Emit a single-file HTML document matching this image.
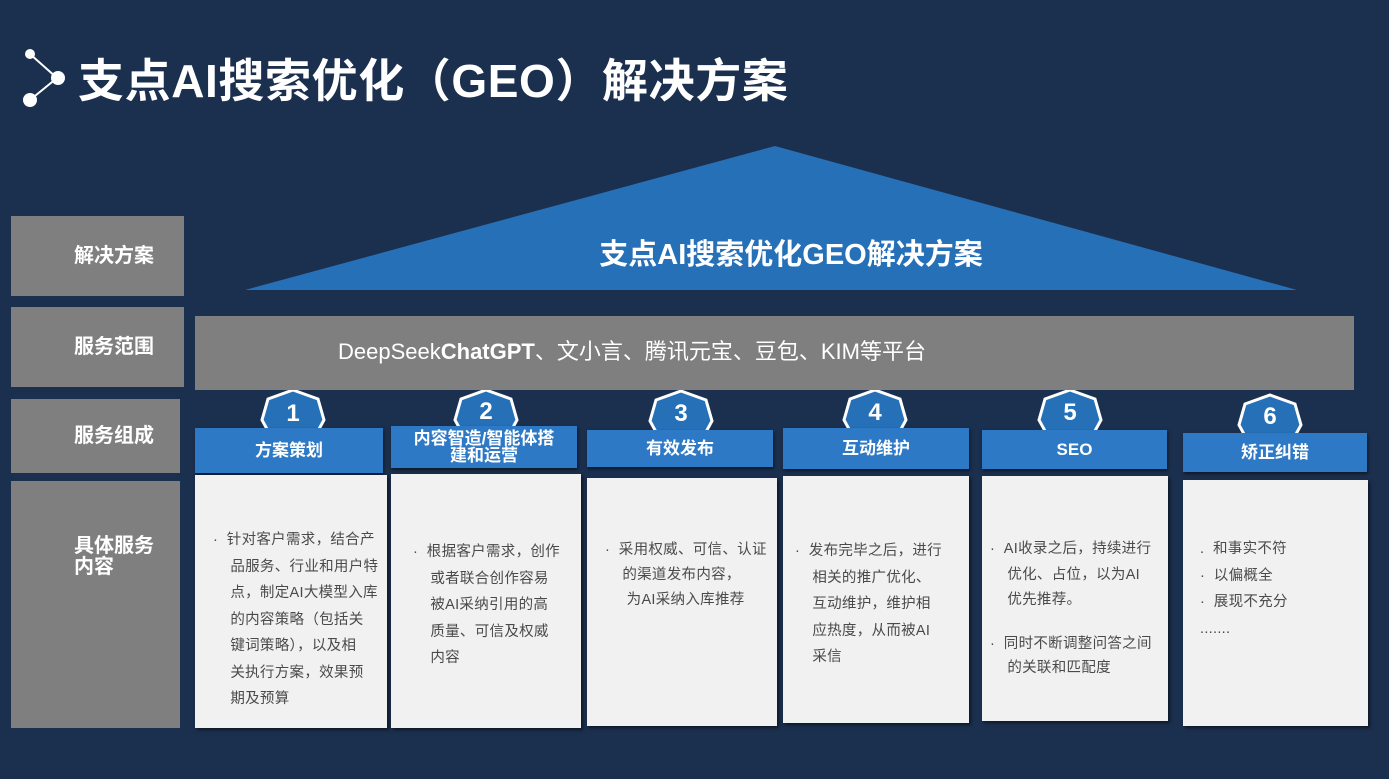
<!DOCTYPE html>
<html><head><meta charset="utf-8"><style>
body{margin:0;width:1389px;height:779px;background:#1b2f4e;position:relative;overflow:hidden;font-family:"Liberation Sans","Noto Sans CJK SC",sans-serif}
.a{position:absolute}
.lb{position:absolute;background:#7f7f7f;color:#fff;font-weight:bold;font-size:20px;box-sizing:border-box;padding-left:63px;display:flex;align-items:center;line-height:21px}
.hd{position:absolute;background:#2e79c5;color:#fff;font-weight:bold;font-size:17px;text-align:center;display:flex;align-items:center;justify-content:center;line-height:17px;box-shadow:1px 2px 3px rgba(0,0,0,.5)}
.bx{position:absolute;background:#f1f1f1;box-shadow:2px 2px 3px rgba(0,0,0,.5)}
.t{position:absolute;color:#4a4a4a;font-size:14.5px;line-height:26.5px;white-space:nowrap;letter-spacing:0.3px}
</style></head><body>
<svg class="a" style="left:0;top:0" width="1389" height="779">
<line x1="30" y1="54" x2="57" y2="78" stroke="#fff" stroke-width="2"/>
<line x1="57" y1="78" x2="30" y2="100" stroke="#fff" stroke-width="2"/>
<circle cx="30" cy="54" r="5" fill="#fff"/><circle cx="58" cy="78" r="7" fill="#fff"/><circle cx="30" cy="100" r="7" fill="#fff"/>
<polygon points="775,146 1297,290 245,290" fill="#2670b8"/>
<g fill="#2670b8" stroke="#fff" stroke-width="3">
<polygon points="293,390 318,399 324,420 313,440 273,440 262,420 268,399"/>
<polygon points="486,390 511,399 517,420 506,440 466,440 455,420 461,399"/>
<polygon points="681,391 706,400 712,421 701,441 661,441 650,421 656,400"/>
<polygon points="875,390 900,399 906,420 895,440 855,440 844,420 850,399"/>
<polygon points="1070,390 1095,399 1101,420 1090,440 1050,440 1039,420 1045,399"/>
<polygon points="1270,395 1295,404 1301,425 1290,445 1250,445 1239,425 1245,404"/>
</g>
<g fill="#fff" font-weight="bold" font-size="24" text-anchor="middle" font-family="Liberation Sans,sans-serif">
<text x="293" y="421">1</text><text x="486" y="419">2</text><text x="681" y="421">3</text><text x="875" y="420">4</text><text x="1070" y="420">5</text><text x="1270" y="424">6</text>
</g>
</svg>
<div class="a" style="left:78px;top:51px;color:#fff;font-weight:bold;font-size:46px;letter-spacing:0.6px;line-height:60px;white-space:nowrap">支点AI搜索优化（GEO）解决方案</div>
<div class="a" style="left:245px;width:1092px;top:235px;text-align:center;color:#fff;font-weight:bold;font-size:29px;line-height:40px">支点AI搜索优化GEO解决方案</div>
<div class="lb" style="left:11px;top:216px;width:173px;height:80px">解决方案</div>
<div class="lb" style="left:11px;top:307px;width:173px;height:80px">服务范围</div>
<div class="lb" style="left:11px;top:399px;width:169px;height:74px">服务组成</div>
<div class="a" style="left:11px;top:481px;width:169px;height:247px;background:#7f7f7f"></div>
<div class="a" style="left:74px;top:536px;color:#fff;font-weight:bold;font-size:20px;line-height:21px">具体服务<br>内容</div>
<div class="a" style="left:195px;top:316px;width:1159px;height:74px;background:#7f7f7f"></div>
<div class="a" style="left:338px;top:338px;color:#fff;font-size:22px;line-height:28px;white-space:nowrap">DeepSeek<b>ChatGPT</b>、文小言、腾讯元宝、豆包、KIM等平台</div>

<div class="hd" style="left:195px;top:428px;width:188px;height:45px">方案策划</div>
<div class="hd" style="left:391px;top:426px;width:186px;height:42px">内容智造/智能体搭<br>建和运营</div>
<div class="hd" style="left:587px;top:430px;width:186px;height:37px">有效发布</div>
<div class="hd" style="left:783px;top:428px;width:186px;height:41px">互动维护</div>
<div class="hd" style="left:982px;top:430px;width:185px;height:39px">SEO</div>
<div class="hd" style="left:1183px;top:433px;width:184px;height:39px">矫正纠错</div>

<div class="bx" style="left:195px;top:475px;width:192px;height:253px"></div>
<div class="bx" style="left:391px;top:474px;width:190px;height:254px"></div>
<div class="bx" style="left:587px;top:478px;width:190px;height:248px"></div>
<div class="bx" style="left:783px;top:476px;width:186px;height:247px"></div>
<div class="bx" style="left:982px;top:476px;width:186px;height:245px"></div>
<div class="bx" style="left:1183px;top:480px;width:185px;height:246px"></div>

<div class="t" style="left:213px;top:527px">·&nbsp;&nbsp;针对客户需求，结合产<br>&nbsp;&nbsp;&nbsp;&nbsp;品服务、行业和用户特<br>&nbsp;&nbsp;&nbsp;&nbsp;点，制定AI大模型入库<br>&nbsp;&nbsp;&nbsp;&nbsp;的内容策略（包括关<br>&nbsp;&nbsp;&nbsp;&nbsp;键词策略），以及相<br>&nbsp;&nbsp;&nbsp;&nbsp;关执行方案，效果预<br>&nbsp;&nbsp;&nbsp;&nbsp;期及预算</div>
<div class="t" style="left:413px;top:539px">·&nbsp;&nbsp;根据客户需求，创作<br>&nbsp;&nbsp;&nbsp;&nbsp;或者联合创作容易<br>&nbsp;&nbsp;&nbsp;&nbsp;被AI采纳引用的高<br>&nbsp;&nbsp;&nbsp;&nbsp;质量、可信及权威<br>&nbsp;&nbsp;&nbsp;&nbsp;内容</div>
<div class="t" style="left:605px;top:538px;line-height:25px">·&nbsp;&nbsp;采用权威、可信、认证<br>&nbsp;&nbsp;&nbsp;&nbsp;的渠道发布内容，<br>&nbsp;&nbsp;&nbsp;&nbsp;&nbsp;为AI采纳入库推荐</div>
<div class="t" style="left:795px;top:538px">·&nbsp;&nbsp;发布完毕之后，进行<br>&nbsp;&nbsp;&nbsp;&nbsp;相关的推广优化、<br>&nbsp;&nbsp;&nbsp;&nbsp;互动维护，维护相<br>&nbsp;&nbsp;&nbsp;&nbsp;应热度，从而被AI<br>&nbsp;&nbsp;&nbsp;&nbsp;采信</div>
<div class="t" style="left:990px;top:537px;line-height:25.5px">·&nbsp;&nbsp;AI收录之后，持续进行<br>&nbsp;&nbsp;&nbsp;&nbsp;优化、占位，以为AI<br>&nbsp;&nbsp;&nbsp;&nbsp;优先推荐。</div>
<div class="t" style="left:990px;top:632px;line-height:24px">·&nbsp;&nbsp;同时不断调整问答之间<br>&nbsp;&nbsp;&nbsp;&nbsp;的关联和匹配度</div>
<div class="t" style="left:1200px;top:536px">.&nbsp;&nbsp;和事实不符<br>·&nbsp;&nbsp;以偏概全<br>·&nbsp;&nbsp;展现不充分<br>.......</div>
</body></html>
